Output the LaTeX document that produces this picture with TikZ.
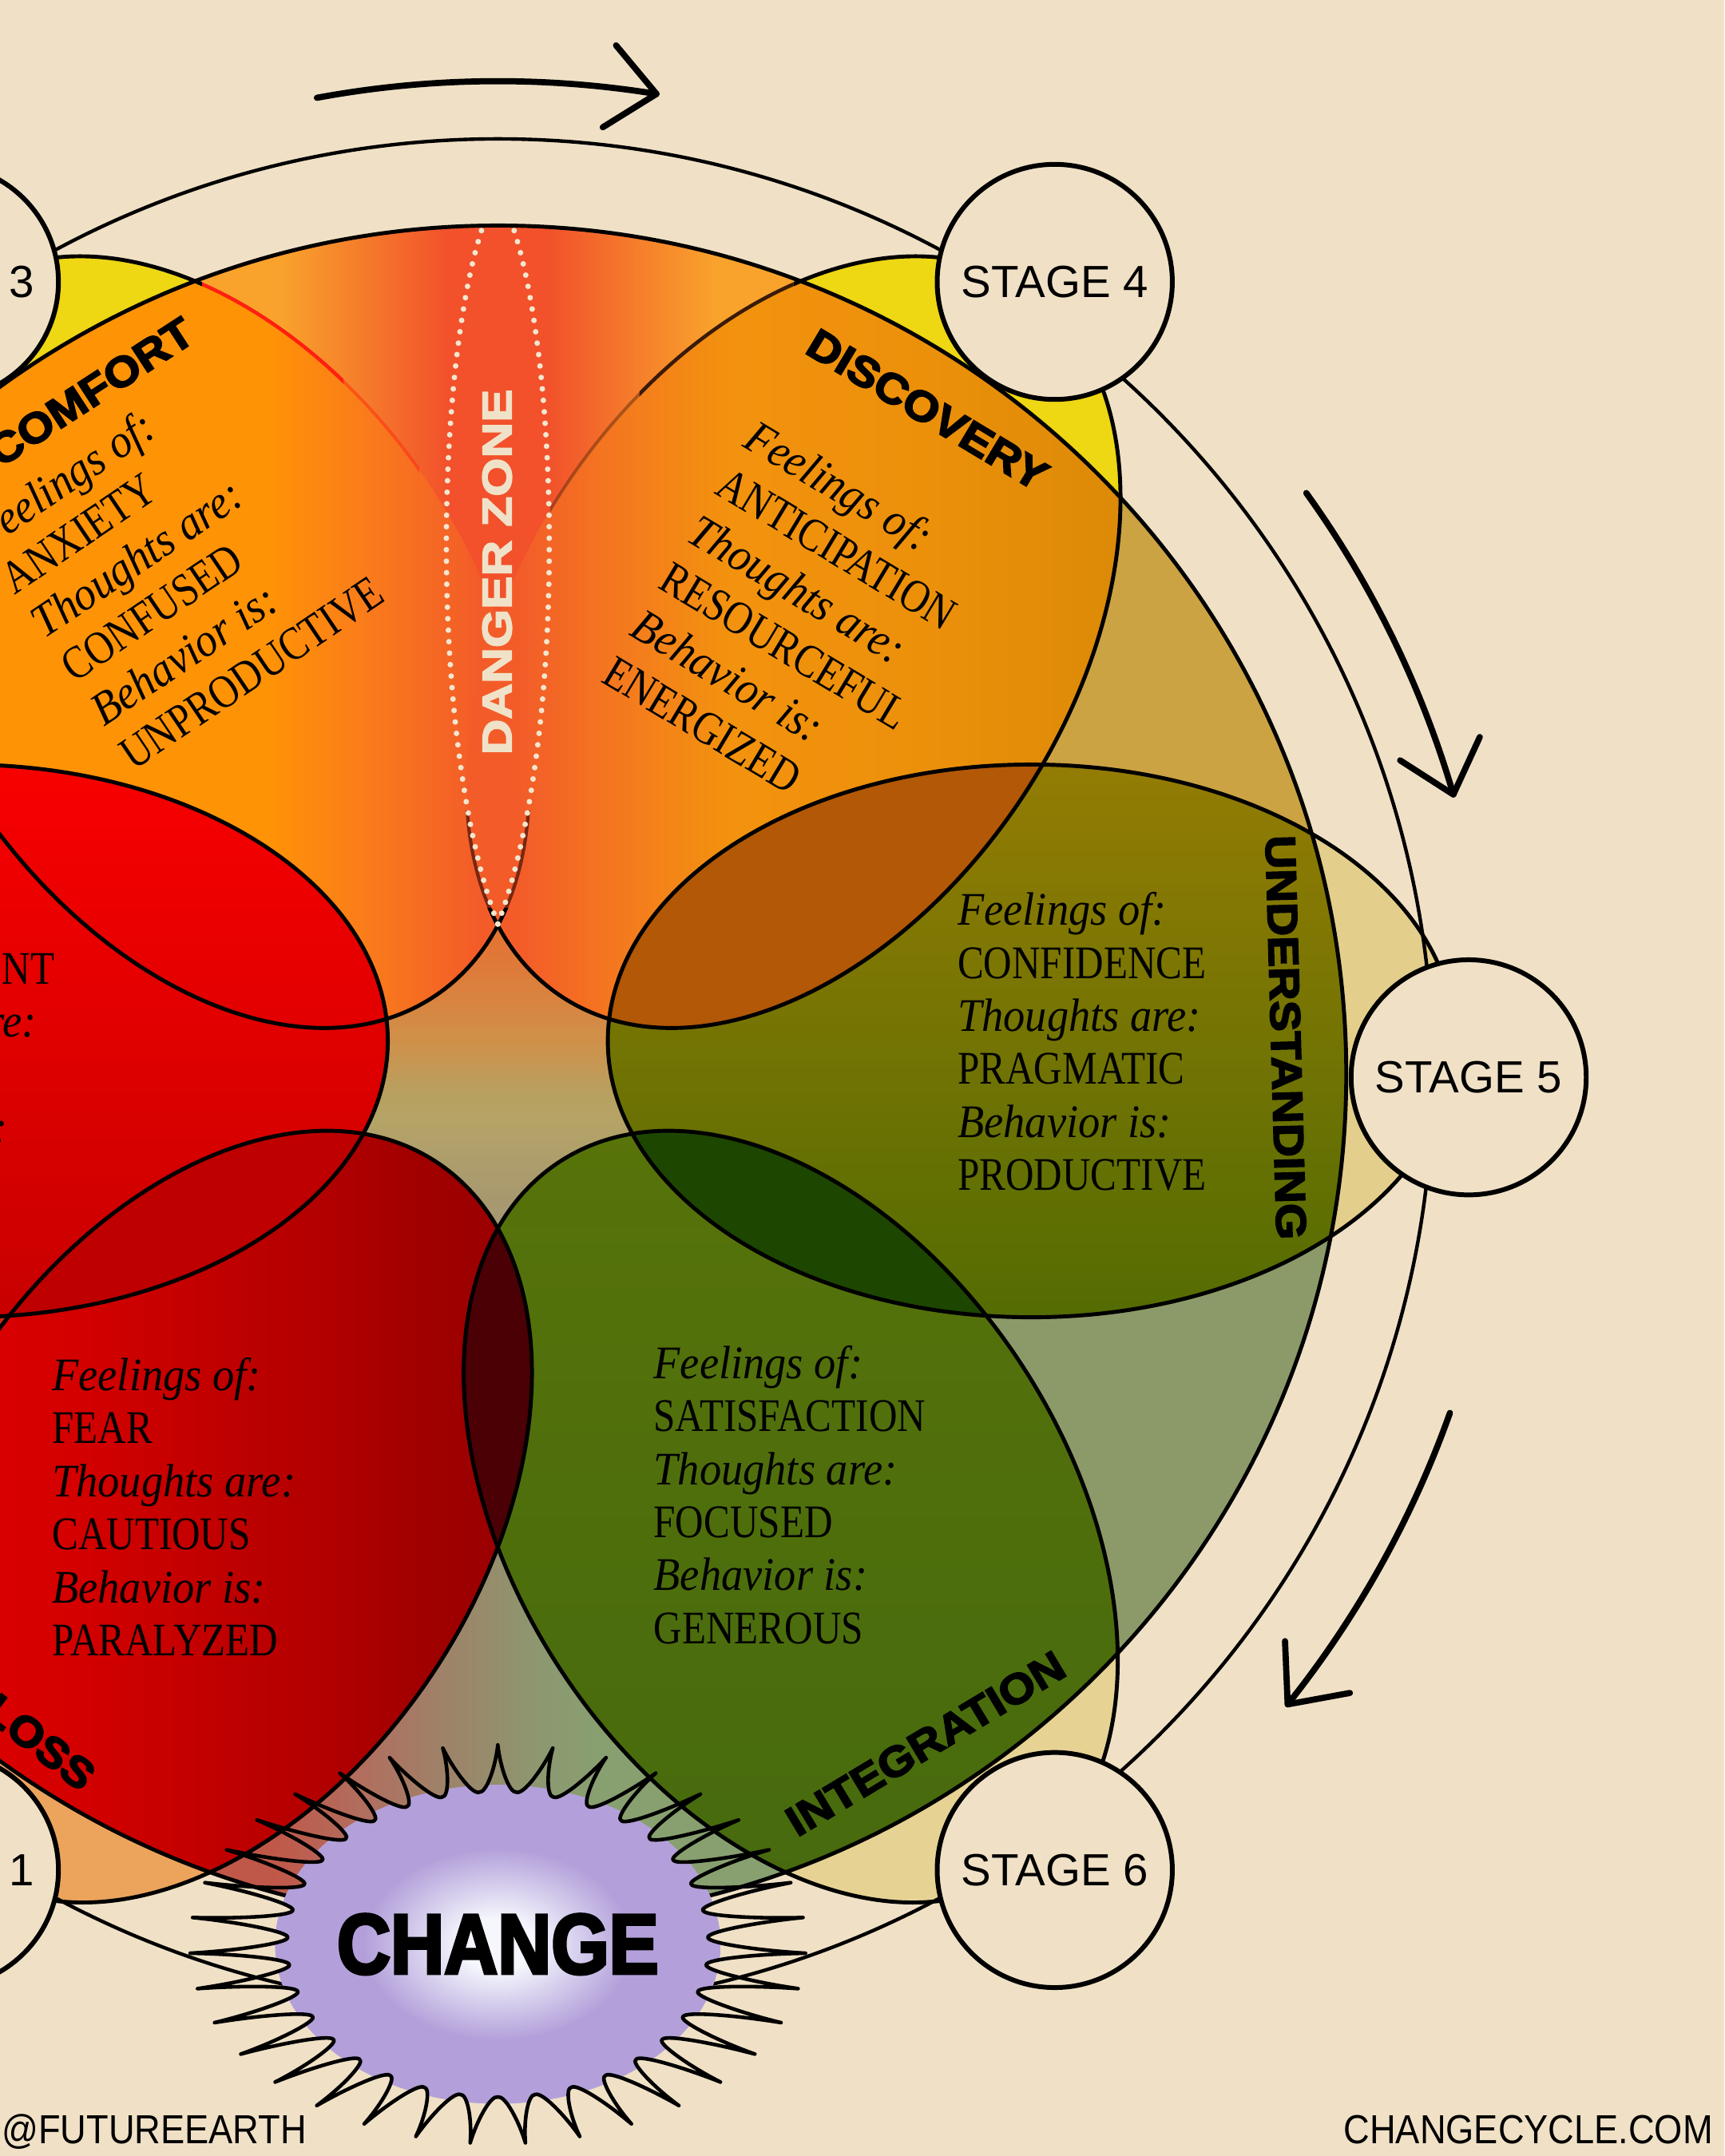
\documentclass[tikz,border=0pt]{standalone}
\usepackage{fontspec}
\setmainfont{Liberation Serif}
\newfontfamily\petalup{Liberation Serif}[FakeStretch=0.84]
\newfontfamily\petalit{Liberation Serif}[FakeStretch=0.93]
\newfontfamily\lblfont{Liberation Sans}[FakeStretch=1.1,FakeBold=3.5]
\newfontfamily\dzfont{Liberation Sans}[FakeStretch=1.2,FakeBold=3.2]
\newfontfamily\chgfont{Liberation Sans}[FakeStretch=0.87,FakeBold=3.5]
\newfontfamily\stgfont{Liberation Sans}
\newfontfamily\footfont{Liberation Sans}[FakeStretch=0.89]

\definecolor{bg}{HTML}{F0E1C6}
\definecolor{yel}{HTML}{EED713}
\definecolor{khU}{HTML}{E3CE8C}
\definecolor{khI}{HTML}{E6D394}
\definecolor{orL}{HTML}{ECA45C}
\definecolor{corange}{HTML}{FF9306}
\definecolor{cmid}{HTML}{F97A1C}
\definecolor{credor}{HTML}{F35C29}
\definecolor{dmid0}{HTML}{F47A1E}
\definecolor{dorange}{HTML}{F3920E}
\definecolor{dmid}{HTML}{EC900A}
\definecolor{ddark}{HTML}{DC8A08}
\definecolor{dzgold}{HTML}{F9A32C}
\definecolor{dzmid}{HTML}{F5792B}
\definecolor{dzred}{HTML}{F2512B}
\definecolor{secB}{HTML}{CBA343}
\definecolor{secC}{HTML}{8C9A69}
\definecolor{secE}{HTML}{CC2A14}
\definecolor{secF}{HTML}{EE4A16}
\definecolor{bA}{HTML}{C4504A}
\definecolor{bB}{HTML}{C0584A}
\definecolor{bC}{HTML}{B07060}
\definecolor{bD}{HTML}{A08068}
\definecolor{bE}{HTML}{8C9870}
\definecolor{bF}{HTML}{88A070}
\definecolor{c900}{HTML}{A49A72}
\definecolor{c871}{HTML}{A89870}
\definecolor{c813}{HTML}{B5A466}
\definecolor{c793}{HTML}{B8A060}
\definecolor{c755}{HTML}{D09048}
\definecolor{c697}{HTML}{E07838}
\definecolor{c660}{HTML}{E8702E}
\definecolor{undT}{HTML}{937C04}
\definecolor{undB}{HTML}{546C02}
\definecolor{intT}{HTML}{57730A}
\definecolor{intB}{HTML}{466A0E}
\definecolor{lossA}{HTML}{E00000}
\definecolor{lossB}{HTML}{D40000}
\definecolor{lossC}{HTML}{B20000}
\definecolor{lossD}{HTML}{A00000}
\definecolor{lossE}{HTML}{980000}
\definecolor{leftT}{HTML}{F80000}
\definecolor{leftB}{HTML}{C80000}
\definecolor{ovDU}{HTML}{B25806}
\definecolor{ovUI}{HTML}{1D4600}
\definecolor{ovIL}{HTML}{4A0004}
\definecolor{ovLL}{HTML}{BE0000}
\definecolor{lav}{HTML}{B3A0DA}
\definecolor{glow}{HTML}{F5F7FD}
\definecolor{cream}{HTML}{F3E6CF}
\definecolor{dzText}{HTML}{F0E2C8}
\definecolor{cred}{HTML}{FF2010}
\definecolor{dbrown}{HTML}{3A1A08}
\definecolor{apexc}{HTML}{5A1A0C}

\pgfdeclarehorizontalshading{comfsh}{100bp}{color(0bp)=(corange); color(55bp)=(corange); color(63bp)=(cmid); color(71bp)=(credor); color(100bp)=(credor)}
\pgfdeclarehorizontalshading{discsh}{100bp}{color(0bp)=(credor); color(29bp)=(credor); color(37bp)=(dmid0); color(45bp)=(dorange); color(60bp)=(dmid); color(75bp)=(ddark); color(100bp)=(ddark)}
\pgfdeclarehorizontalshading{dzsh}{100bp}{color(0bp)=(dzgold); color(39bp)=(dzgold); color(43.5bp)=(dzmid); color(47.5bp)=(dzred); color(52.5bp)=(dzred); color(56.5bp)=(dzmid); color(61bp)=(dzgold); color(100bp)=(dzgold)}
\pgfdeclarehorizontalshading{botsh}{100bp}{color(0bp)=(bA); color(38.8bp)=(bB); color(43.6bp)=(bC); color(46.8bp)=(bD); color(52.2bp)=(bE); color(55.4bp)=(bF); color(100bp)=(bF)}
\pgfdeclareverticalshading{censh}{100bp}{color(0bp)=(c900); color(25bp)=(c900); color(31bp)=(c871); color(43bp)=(c813); color(47bp)=(c793); color(55bp)=(c755); color(67bp)=(c697); color(75bp)=(c660); color(100bp)=(c660)}
\pgfdeclarehorizontalshading{losssh}{100bp}{color(0bp)=(lossA); color(25bp)=(lossA); color(40bp)=(lossB); color(59bp)=(lossC); color(67bp)=(lossD); color(75bp)=(lossE); color(100bp)=(lossE)}
\pgfdeclareradialshading{glowsh}{\pgfpoint{0bp}{0bp}}{color(0bp)=(glow); color(4bp)=(glow); color(15bp)=(lav); color(50bp)=(lav)}

\newcommand\petalpath{(0,0) ellipse [x radius=308, y radius=201]}
\newcommand\diskpath{(362,781) circle [radius=617]}
\newcommand\starpath{(270:224 and 145) \foreach \k [evaluate=\k as \ca using 270+(\k+0.05)*10.285714, evaluate=\k as \tv using 270+(\k+0.5)*10.285714, evaluate=\k as \tn using 270+(\k+1)*10.285714, evaluate=\k as \vl using 270+(\k+0.3)*10.285714, evaluate=\k as \vr using 270+(\k+0.7)*10.285714, evaluate=\k as \cb using 270+(\k+0.95)*10.285714] in {0,...,34} { .. controls (\ca:190 and 129) and (\vl:152 and 110) .. (\tv:153 and 111) .. controls (\vr:152 and 110) and (\cb:190 and 129) .. (\tn:224 and 145) } -- cycle}
\newcommand\ptI[1]{{\petalit\itshape\fontsize{16.66}{18.9}\selectfont #1}}
\newcommand\ptU[1]{{\petalup\fontsize{16.66}{18.9}\selectfont #1}}
\newcommand\lsk{38.6}
\newcommand\pblock[9]{%
  \begin{scope}[shift={#2},rotate=#3,transform shape]
    \node[ptxt] (#1a) at (0,0) {\ptI{#4}};
    \node[ptxt] (#1b) at (0,\lsk) {\ptU{#5}};
    \node[ptxt] (#1c) at (0,2*\lsk) {\ptI{#6}};
    \node[ptxt] (#1d) at (0,3*\lsk) {\ptU{#7}};
    \node[ptxt] (#1e) at (0,4*\lsk) {\ptI{#8}};
    \node[ptxt] (#1f) at (0,5*\lsk) {\ptU{#9}};
  \end{scope}}

\begin{document}
\begin{tikzpicture}[x=0.17225mm,y=-0.17225mm,
  pcomf/.style={shift={(147,467)},rotate=-57},
  pdisc/.style={shift={(577,467)},rotate=57},
  pund/.style={shift={(750,757)}},
  pleft/.style={shift={(-26,757)}},
  pint/.style={shift={(575,1103)},rotate=-57},
  ploss/.style={shift={(149,1103)},rotate=57},
  pline/.style={draw=black,line width=1.4pt},
  ringline/.style={draw=black,line width=1.25pt},
  arrowline/.style={draw=black,line width=2.2pt,line cap=round,line join=round},
  starline/.style={draw=black,line width=1.3pt,line join=round},
  dots/.style={draw=cream,line width=2.0pt,line cap=round,dash pattern=on 0pt off 4.1pt},
  stage/.style={circle,draw=black,line width=1.7pt,fill=bg,minimum size=83.8pt,inner sep=0pt,font=\stgfont\fontsize{16.07}{18}\selectfont},
  ptxt/.style={anchor=base west,inner sep=0pt},
  ptxe/.style={anchor=base east,inner sep=0pt},
  lbl/.style={inner sep=0pt,font=\lblfont\bfseries\fontsize{15.05}{17}\selectfont},
  foot/.style={inner sep=0pt,font=\footfont\fontsize{14.46}{16}\selectfont}]
\useasboundingbox (0,0) rectangle (1254,1568);
\clip (0,0) rectangle (1254,1568);
\fill[bg] (0,0) rectangle (1254,1568);
\coordinate (cen) at (362,781);

% petal parts outside the disk
\fill[yel,pcomf]\petalpath;
\fill[yel,pdisc]\petalpath;
\fill[khU,pund]\petalpath;
\fill[khI,pint]\petalpath;
\fill[orL,ploss]\petalpath;
\fill[orL,pleft]\petalpath;

% disk background sectors
\begin{scope}
  \clip \diskpath;
  \begin{scope}\clip (cen)--(-203,-44)--(927,-44)--cycle; \shade[shading=dzsh] (0,100) rectangle (724,800);\end{scope}
  \fill[secB] (cen)--(927,-44)--(1360,720)--cycle;
  \fill[secC] (cen)--(1360,720)--(914,1615)--cycle;
  \begin{scope}\clip (cen)--(914,1615)--(-190,1615)--cycle; \shade[shading=botsh] (0,760) rectangle (724,1420);\end{scope}
  \fill[secE] (cen)--(-190,1615)--(-636,720)--cycle;
  \fill[secF] (cen)--(-636,720)--(-203,-44)--cycle;
  \shade[shading=censh] (250,660) rectangle (475,900);
\end{scope}

% petals inside the disk
\begin{scope}
  \clip \diskpath;
  \begin{scope}\clip[pcomf]\petalpath; \shade[shading=comfsh] (-91,186) rectangle (385,748);\end{scope}
  \begin{scope}\clip[pdisc]\petalpath; \shade[shading=discsh] (339,186) rectangle (815,748);\end{scope}
  \begin{scope}\clip[pleft]\petalpath; \shade[top color=leftT,bottom color=leftB] (-338,556) rectangle (286,958);\end{scope}
  \begin{scope}\clip[pund]\petalpath; \shade[top color=undT,bottom color=undB] (438,556) rectangle (1062,958);\end{scope}
  \begin{scope}\clip[pint]\petalpath; \shade[top color=intT,bottom color=intB] (337,822) rectangle (813,1384);\end{scope}
  \begin{scope}\clip[ploss]\petalpath; \shade[shading=losssh] (-89,822) rectangle (387,1384);\end{scope}
  \begin{scope}\clip[pdisc]\petalpath; \fill[ovDU,pund]\petalpath;\end{scope}
  \begin{scope}\clip[pund]\petalpath; \fill[ovUI,pint]\petalpath;\end{scope}
  \begin{scope}\clip[pint]\petalpath; \fill[ovIL,ploss]\petalpath;\end{scope}
  \begin{scope}\clip[ploss]\petalpath; \fill[ovLL,pleft]\petalpath;\end{scope}
\end{scope}

% outlines
\draw[pline] \diskpath;
\draw[pline,pund]\petalpath;
\draw[pline,pint]\petalpath;
\draw[pline,ploss]\petalpath;
\draw[pline,pleft]\petalpath;
\begin{scope}
  \clip (-300,-300)--(147,-300)--(147,660)--(577,660)--(577,-300)--(1600,-300)--(1600,1900)--(-300,1900)--cycle;
  \draw[pline,pcomf]\petalpath;
  \draw[pline,pdisc]\petalpath;
\end{scope}
\begin{scope}\clip (147,180) rectangle (250,300); \draw[line width=1.3pt,draw=cred,pcomf]\petalpath;\end{scope}
\begin{scope}\clip (250,180) rectangle (305,345); \draw[line width=1.1pt,draw=cred,draw opacity=0.45,pcomf]\petalpath;\end{scope}
\begin{scope}\clip (465,180) rectangle (577,300); \draw[line width=1.3pt,draw=dbrown,pdisc]\petalpath;\end{scope}
\begin{scope}\clip (400,260) rectangle (465,380); \draw[line width=1.1pt,draw=dbrown,draw opacity=0.4,pdisc]\petalpath;\end{scope}
\begin{scope}\clip (318,590) rectangle (406,660);
  \draw[line width=1.2pt,draw=apexc,draw opacity=0.8,pcomf]\petalpath;
  \draw[line width=1.2pt,draw=apexc,draw opacity=0.8,pdisc]\petalpath;
\end{scope}

% outer ring
\draw[ringline] (cen) circle [radius=680];

% danger zone
\coordinate (dzb) at (362,672);
\coordinate (dzl) at (351,165);
\coordinate (dzr) at (373,165);
\draw[dots] (dzb) .. controls (312,540) and (316,270) .. (dzl);
\draw[dots] (dzb) .. controls (412,540) and (408,270) .. (dzr);
\node[rotate=90,inner sep=0pt,text=dzText,font=\dzfont\bfseries\fontsize{14.7}{16}\selectfont] (dz) at (361.5,416) {DANGER ZONE};

% change starburst
\begin{scope}[shift={(362,1414)}]
  \begin{scope}\clip \starpath; \shade[shading=glowsh] (0,0) ellipse [x radius=162, y radius=116];\end{scope}
  \draw[starline] \starpath;
\end{scope}
\node[inner sep=0pt,font=\chgfont\bfseries\fontsize{30.4}{34}\selectfont] (change) at (362,1414) {CHANGE};

% stage circles
\node[stage] (st3) at (-43,205) {STAGE 3};
\node[stage] (st4) at (767,205) {STAGE 4};
\node[stage] (st5) at (1068,783.5) {STAGE 5};
\node[stage] (st6) at (767,1360) {STAGE 6};
\node[stage] (st1) at (-43,1360) {STAGE 1};

% petal texts
\pblock{tc}{(-11,401)}{34}{Feelings of:}{ANXIETY}{Thoughts are:}{CONFUSED}{Behavior is:}{UNPRODUCTIVE}
\renewcommand\lsk{40}
\pblock{td}{(539,324)}{-31}{Feelings of:}{ANTICIPATION}{Thoughts are:}{RESOURCEFUL}{Behavior is:}{ENERGIZED}
\renewcommand\lsk{38.6}
\pblock{tu}{(696,672.8)}{0}{Feelings of:}{CONFIDENCE}{Thoughts are:}{PRAGMATIC}{Behavior is:}{PRODUCTIVE}
\pblock{ti}{(475,1002.4)}{0}{Feelings of:}{SATISFACTION}{Thoughts are:}{FOCUSED}{Behavior is:}{GENEROUS}
\pblock{tl}{(37.5,1011.3)}{0}{Feelings of:}{FEAR}{Thoughts are:}{CAUTIOUS}{Behavior is:}{PARALYZED}
\node[ptxe] (txb) at (40,715.5) {\ptU{RESENTMENT}};
\node[ptxe] (txc) at (27,754.1) {\ptI{Thoughts are:}};
\node[ptxe] (txe) at (6,831.3) {\ptI{Behavior is:}};

% petal labels
\node[lbl,rotate=33] (lcomf) at (66,285) {COMFORT};
\node[lbl,rotate=-31] (ldisc) at (674.5,298) {DISCOVERY};
\node[lbl,rotate=-88.4] (lund) at (935,754.5) {UNDERSTANDING};
\node[lbl,rotate=31] (lint) at (673,1268) {INTEGRATION};
\node[lbl,rotate=-38] (lloss) at (29,1267) {LOSS};

% cycle arrows
\draw[arrowline] (cen) ++(-100.5:722) arc [start angle=-100.5, end angle=-80.8, radius=722] coordinate (a1t);
\draw[arrowline] (a1t) ++(-129.8:46) -- (a1t) -- ++(148.2:46);
\draw[arrowline] (cen) ++(-35.7:724) arc [start angle=-35.7, end angle=-16.3, radius=724] coordinate (a2t);
\draw[arrowline] (a2t) ++(-65.3:46) -- (a2t) -- ++(-147.3:46);
\draw[arrowline] (cen) ++(19.6:735) arc [start angle=19.6, end angle=38.6, radius=735] coordinate (a3t);
\draw[arrowline] (a3t) ++(-10.4:46) -- (a3t) -- ++(-92.4:46);

% footer
\node[foot,anchor=base west] (fl) at (1,1559) {@FUTUREEARTH};
\node[foot,anchor=base east] (fr) at (1246,1559) {CHANGECYCLE.COM};
\end{tikzpicture}
\end{document}
